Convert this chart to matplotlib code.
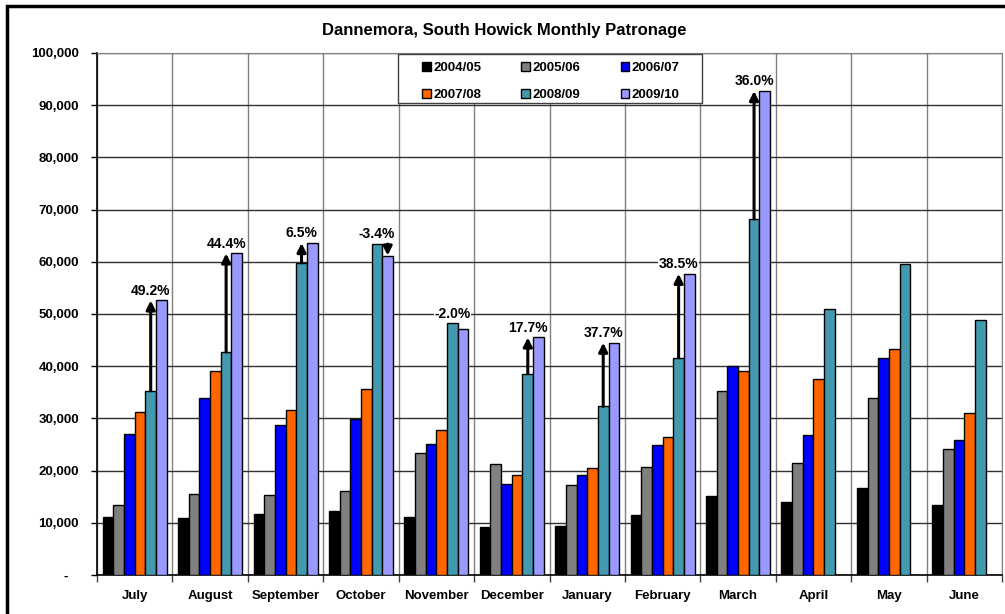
import matplotlib
matplotlib.use("Agg")
import matplotlib.pyplot as plt
from matplotlib.patches import Rectangle
import numpy as np

months = ["July", "August", "September", "October", "November", "December",
          "January", "February", "March", "April", "May", "June"]
seasons = ["2004/05", "2005/06", "2006/07", "2007/08", "2008/09", "2009/10"]
colors = ["#000000", "#808080", "#0000FF", "#FF6600", "#4399AF", "#9999FF"]

y0405 = [11200, 11000, 11600, 12200, 11200, 9200, 9300, 11400, 15200, 14000, 16700, 13400]
y0506 = [13400, 15600, 15400, 16000, 23300, 21200, 17300, 20600, 35300, 21400, 33900, 24100]
y0607 = [27000, 33900, 28700, 29900, 25100, 17500, 19100, 24900, 40100, 26800, 41500, 25900]
y0708 = [31300, 39100, 31600, 35700, 27700, 19100, 20500, 26500, 39100, 37600, 43300, 31100]
y0809 = [35300, 42700, 59800, 63400, 48200, 38600, 32300, 41600, 68200, 50900, 59500, 48800]
y0910 = [52600, 61600, 63600, 61200, 47200, 45500, 44500, 57700, 92700]

# growth of 2009/10 over 2008/09, as printed above each month
growth = ["49.2%", "44.4%", "6.5%", "-3.4%", "-2.0%", "17.7%", "37.7%", "38.5%", "36.0%"]

series = [y0405, y0506, y0607, y0708, y0809, y0910]

plt.rcParams["font.family"] = ["Liberation Sans", "DejaVu Sans"]
plt.rcParams["font.weight"] = "bold"

fig = plt.figure(figsize=(10.05, 6.14), dpi=100)
ax = fig.add_axes([97 / 1005, 1 - 575 / 614, 905 / 1005, 522 / 614])

n = len(seasons)
gap = 1.07
bw = 1.0 / (n + gap)
x = np.arange(len(months))

bars = []
for i, (vals, col, lab) in enumerate(zip(series, colors, seasons)):
    pos = x[:len(vals)] - 0.5 + bw * (gap / 2 + i + 0.5)
    b = ax.bar(pos, vals, width=bw, color=col, edgecolor="black", linewidth=1.0,
               label=lab, zorder=3)
    bars.append(b)

# arrows and percentage labels
for k, txt in enumerate(growth):
    a = y0809[k]
    b = y0910[k]
    xt = k - 0.5 + bw * (gap / 2 + 4.5)
    xp = k - 0.5 + bw * (gap / 2 + 5.5)
    if abs(b - a) > 1000:
        xa = xt if b > a else xp
        ax.annotate("", xy=(xa, b), xytext=(xa, a),
                    arrowprops=dict(arrowstyle="-|>", color="black", lw=2.2,
                                    mutation_scale=13, shrinkA=0, shrinkB=0),
                    zorder=5)
    ax.text(xt, max(a, b) + 500, txt, ha="center", va="bottom", fontsize=10,
            fontweight="bold", zorder=6,
            bbox=dict(facecolor="white", edgecolor="none", pad=0.5))

ax.set_xlim(-0.5, len(months) - 0.5)
ax.set_ylim(0, 100000)

yt = np.arange(0, 100001, 10000)
ax.set_yticks(yt)
ax.set_yticklabels(["-   "] + [f"{v:,}" for v in yt[1:]], fontsize=9.5, fontweight="bold")
ax.set_xticks(x)
ax.set_xticklabels(months, fontsize=9.5, fontweight="bold")
ax.set_xticks(np.arange(-0.5, len(months)), minor=True)
ax.tick_params(axis="x", which="major", length=0, pad=11)
ax.tick_params(axis="x", which="minor", length=5, width=1, color="#404040")
ax.tick_params(axis="y", length=4, width=1, pad=9)

ax.grid(axis="y", which="major", color="#303030", linewidth=1.0, zorder=0)
ax.grid(axis="x", which="minor", color="#808080", linewidth=1.0, zorder=0)

for s in ["top", "right"]:
    ax.spines[s].set_color("#808080")
for s in ["left", "bottom"]:
    ax.spines[s].set_color("black")
    ax.spines[s].set_linewidth(1.2)

# legend box, drawn separately so the entries can sit inset from its edges
ax.add_patch(Rectangle((301 / 905, 1 - 50 / 522), 304 / 905, 49 / 522,
                       transform=ax.transAxes, facecolor="white",
                       edgecolor="#404040", linewidth=1.0, zorder=9, clip_on=False))

# legend reads across rows: reorder for matplotlib's column filling
order = [0, 3, 1, 4, 2, 5]
leg = ax.legend([bars[i] for i in order], [seasons[i] for i in order],
                loc="upper left", bbox_to_anchor=(318 / 905, 1 - 2 / 522, 272 / 905, 0),
                mode="expand", ncol=3, fontsize=9.5, frameon=False,
                handlelength=0.65, handleheight=0.65, handletextpad=0.2,
                labelspacing=1.1, borderpad=0.55, borderaxespad=0)
leg.set_zorder(10)
for t in leg.get_texts():
    t.set_fontweight("bold")

fig.text(504 / 1005, 1 - 30 / 614, "Dannemora, South Howick Monthly Patronage",
         ha="center", va="center", fontsize=12, fontweight="bold")

# outer chart border
fig.add_artist(Rectangle((7 / 1005, -0.2), 1.2, 1.2 - 6 / 614,
                         transform=fig.transFigure, fill=False,
                         edgecolor="black", linewidth=2.5))

fig.savefig("out.png", dpi=100)
